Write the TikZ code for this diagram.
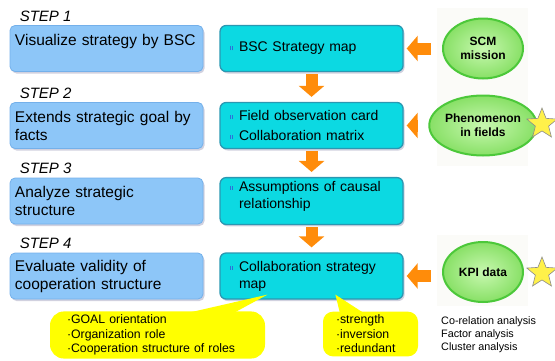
\documentclass[tikz,border=0pt]{standalone}
\usepackage{fontspec}
\setmainfont{Liberation Sans}
\usetikzlibrary{arrows.meta,positioning,shapes.geometric,shadows}

\definecolor{stepfill}{HTML}{8DC6F8}
\definecolor{stepline}{HTML}{74B0EA}
\definecolor{mapfill}{HTML}{0CD9E2}
\definecolor{mapline}{HTML}{2A98B2}
\definecolor{bulletblue}{HTML}{2F6FD8}
\definecolor{srcinner}{HTML}{C8F8B0}
\definecolor{srcouter}{HTML}{88E066}
\definecolor{srcline}{HTML}{4CC83A}
\definecolor{arroworange}{HTML}{FF8C0A}
\definecolor{noteyellow}{HTML}{FFFF00}
\definecolor{starfill}{HTML}{FFF14A}
\definecolor{panel}{HTML}{FBFBF8}

% small blue marker in front of each item
\newcommand\bul{\makebox[9pt][l]{\textcolor{bulletblue}{\rule[1.5pt]{0.9pt}{4pt}\hspace{0.7pt}\rule[1.5pt]{0.9pt}{4pt}}}}
\newcommand\cont{\hspace*{9pt}}

\begin{document}
\begin{tikzpicture}[x=1pt,y=-1pt,
  node distance=16pt,
  stepbox/.style={draw=stepline, fill=stepfill, line width=0.8pt, rounded corners=5pt,
    minimum width=193pt, minimum height=46pt, inner xsep=5pt, text width=183pt, align=left,
    font=\fontsize{15.5}{18}\selectfont,
    drop shadow={shadow xshift=1.5pt, shadow yshift=-2pt, opacity=.3, fill=blue!30!black!60}},
  mapbox/.style={draw=mapline, fill=mapfill, line width=1.3pt, rounded corners=6pt,
    minimum width=183pt, minimum height=46pt, inner xsep=10pt, text width=163pt, align=left,
    font=\fontsize{14}{17}\selectfont,
    drop shadow={shadow xshift=1.5pt, shadow yshift=-2pt, opacity=.3, fill=blue!30!black!60}},
  steplabel/.style={font=\fontsize{15}{18}\selectfont\itshape, inner sep=0pt, anchor=base west},
  source/.style={ellipse, draw=srcline, line width=2pt, inner color=srcinner, outer color=srcouter,
    minimum width=80pt, minimum height=60pt, inner sep=0pt, align=center,
    font=\fontsize{12}{14}\selectfont\bfseries},
  fatarrow/.style={draw=arroworange, line width=12pt, -{Triangle[width=25pt,length=11pt]}},
  note/.style={fill=noteyellow, rounded corners=14pt, align=left, font=\fontsize{12.3}{14.5}\selectfont},
  kpistar/.style={star, star points=5, star point ratio=2.3, draw=black!45, line width=0.6pt,
    fill=starfill, minimum size=32pt, inner sep=0pt},
]
\useasboundingbox (0,0) rectangle (555,360);

% backdrop of the source bubbles
\fill[panel] (437,8) rectangle (528,166);
\fill[panel] (437,235) rectangle (528,306);

% steps on the left
\node[stepbox] (goal1) at (106.5,48.5) {Visualize strategy by BSC\\\mbox{}};
\node[stepbox] (goal2) at (106.5,125.5) {Extends strategic goal by\\facts};
\node[stepbox] (goal3) at (106.5,201) {Analyze strategic\\structure};
\node[stepbox] (goal4) at (106.5,276) {Evaluate validity of\\cooperation structure};

\node[steplabel] (lab1) at ([xshift=10pt,yshift=4pt]goal1.north west) {STEP 1};
\node[steplabel] (lab2) at ([xshift=10pt,yshift=4pt]goal2.north west) {STEP 2};
\node[steplabel] (lab3) at ([xshift=10pt,yshift=4pt]goal3.north west) {STEP 3};
\node[steplabel] (lab4) at ([xshift=10pt,yshift=4pt]goal4.north west) {STEP 4};

% outputs of each step
\node[mapbox, right=of goal1] (map1) {\bul BSC Strategy map};
\node[mapbox, right=of goal2] (map2) {\bul Field observation card\\[3pt]\bul Collaboration matrix};
\node[mapbox, right=of goal3] (map3) {\bul Assumptions of causal\\\cont relationship\\[-4pt]\mbox{}};
\node[mapbox, right=of goal4] (map4) {\bul Collaboration strategy\\\cont map};

\draw[fatarrow, shorten <=2pt, shorten >=5pt] (map1) -- (map2);
\draw[fatarrow, shorten <=2pt, shorten >=5pt] (map2) -- (map3);
\draw[fatarrow, shorten <=2pt, shorten >=5pt] (map3) -- (map4);

% inputs
\node[source] (scm) at (483,48.5) {SCM\\mission};
\node[source] (phen) at (483,125.5) {Phenomenon\\in fields};
\node[source] (kpi) at (483,272) {KPI data};

\draw[fatarrow, shorten <=11pt, shorten >=3pt] (scm.west) -- (map1.east);
\draw[fatarrow, shorten <=11pt, shorten >=3pt] (phen.west) -- (map2.east);
\draw[fatarrow, shorten <=11pt, shorten >=3pt] (map4.east -| kpi.west) -- (map4.east);

\node[kpistar] (star2) at (542,124) {};
\node[kpistar] (star4) at (542,273) {};

\node[anchor=north west, inner sep=0pt, align=left, font=\fontsize{10.8}{13}\selectfont]
  (methods) at ([xshift=-1pt,yshift=-13pt]kpi.south -| kpi.west) {Co-relation analysis\\Factor analysis\\Cluster analysis};

% notes on the collaboration strategy map
\node[note, minimum width=215pt, minimum height=46pt, inner xsep=17pt, text width=181pt] (viewpoints) at (157.5,335)
  {·GOAL orientation\\·Organization role\\·Cooperation structure of roles};
\node[note, rounded corners=10pt, minimum width=95pt, minimum height=44pt, inner xsep=13pt, text width=69pt] (checks) at (370.5,334)
  {·strength\\·inversion\\·redundant};

\coordinate (tipA) at ([xshift=48pt,yshift=5pt]map4.south west);
\coordinate (tipB) at ([xshift=116pt,yshift=5pt]map4.south west);
\fill[noteyellow] ([xshift=20pt,yshift=-4pt]viewpoints.north) -- (tipA) -- ([xshift=72pt,yshift=-4pt]viewpoints.north) -- cycle;
\fill[noteyellow] ([xshift=-30pt,yshift=-4pt]checks.north) -- (tipB) -- ([xshift=-3pt,yshift=-4pt]checks.north) -- cycle;
\end{tikzpicture}
\end{document}
